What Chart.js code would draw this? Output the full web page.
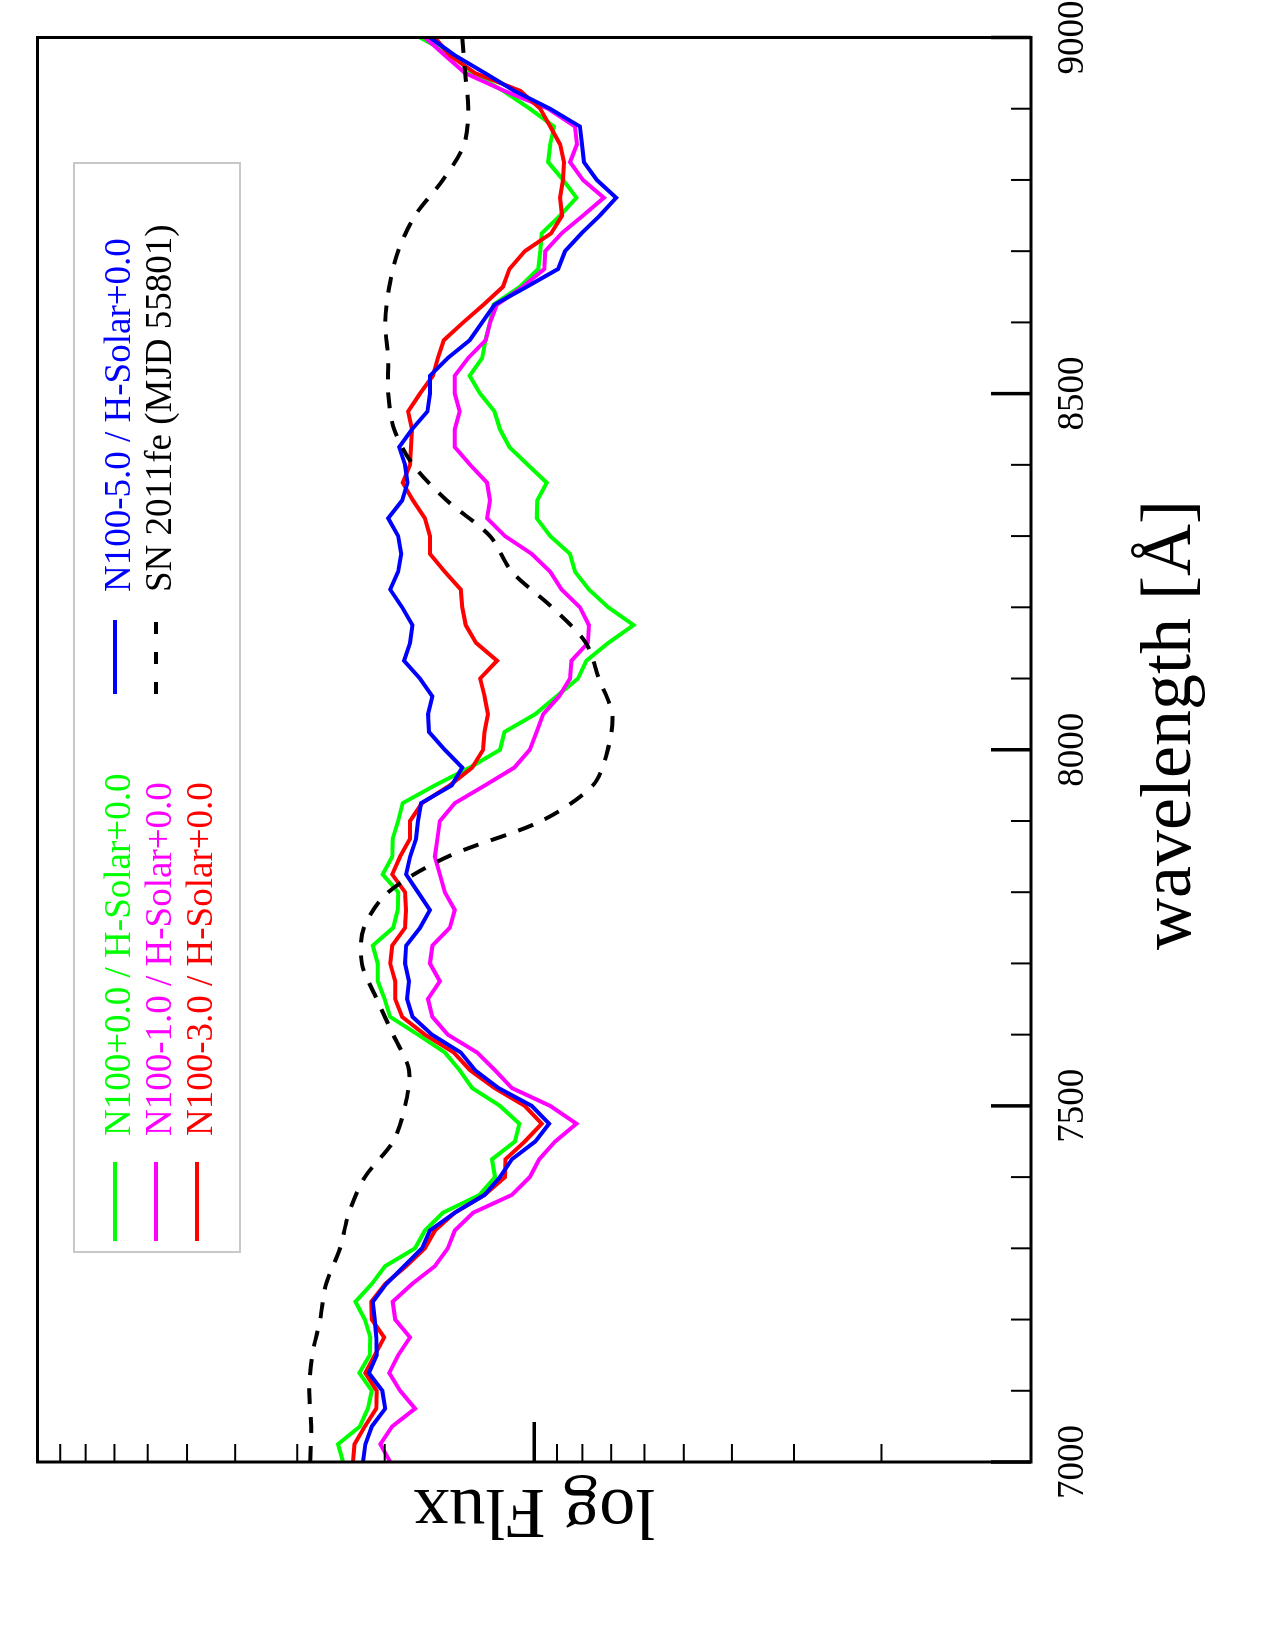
<!DOCTYPE html>
<html><head><meta charset="utf-8">
<script src="https://cdn.jsdelivr.net/npm/chart.js@4.4.1/dist/chart.umd.min.js"></script>
<style>
html,body{margin:0;padding:0;background:#fff;}
body{width:1275px;height:1650px;position:relative;overflow:hidden;}
#rot{position:absolute;left:0;top:0;width:1650px;height:1275px;transform-origin:0 0;transform:translate(0px,1650px) rotate(-90deg);}
canvas{display:block;}
</style></head><body>
<div id="rot"><canvas id="c" width="1650" height="1275" style="width:1650px;height:1275px"></canvas></div>
<script>
// wavelength grid (Angstrom) for the model spectra
const wavelengths = [7000,7025,7050,7075,7100,7125,7150,7175,7200,7225,7250,7275,7300,7325,7350,7375,7400,7425,7450,7475,7500,7525,7550,7575,7600,7625,7650,7675,7700,7725,7750,7775,7800,7825,7850,7875,7900,7925,7950,7975,8000,8025,8050,8075,8100,8125,8150,8175,8200,8225,8250,8275,8300,8325,8350,8375,8400,8425,8450,8475,8500,8525,8550,8575,8600,8625,8650,8675,8700,8725,8750,8775,8800,8825,8850,8875,8900,8925,8950,8975,9000];
// log10 flux
const logFluxN100p00 = [0.385,0.395,0.351,0.335,0.327,0.352,0.331,0.330,0.341,0.360,
  0.327,0.300,0.240,0.220,0.184,0.110,0.079,0.085,0.039,0.030,
  0.069,0.125,0.150,0.180,0.234,0.290,0.301,0.315,0.315,0.325,
  0.284,0.275,0.274,0.305,0.286,0.285,0.274,0.265,0.200,0.130,
  0.069,0.060,-0.002,-0.045,-0.088,-0.105,-0.149,-0.200,-0.149,-0.110,
  -0.082,-0.072,-0.032,-0.005,-0.006,-0.025,0.013,0.050,0.069,0.080,
  0.109,0.130,0.105,0.098,0.089,0.082,0.029,-0.008,-0.012,-0.015,
  -0.052,-0.085,-0.058,-0.028,-0.032,-0.040,0.009,0.062,0.125,0.165,0.230];
const logFluxN100m10 = [0.290,0.310,0.286,0.240,0.270,0.292,0.274,0.250,0.280,0.285,
  0.246,0.200,0.174,0.160,0.123,0.045,0.009,-0.010,-0.042,-0.085,
  -0.032,0.045,0.079,0.115,0.174,0.205,0.214,0.190,0.210,0.205,
  0.170,0.160,0.180,0.190,0.200,0.195,0.190,0.160,0.099,0.040,
  0.009,-0.005,-0.018,-0.050,-0.072,-0.075,-0.108,-0.110,-0.092,-0.055,
  -0.032,0.005,0.059,0.095,0.089,0.095,0.129,0.160,0.160,0.150,
  0.160,0.160,0.133,0.098,0.089,0.075,0.023,-0.020,-0.022,-0.055,
  -0.098,-0.140,-0.098,-0.072,-0.086,-0.082,-0.028,0.060,0.139,0.180,0.220];
const logFluxN100m30 = [0.365,0.362,0.341,0.318,0.317,0.340,0.321,0.302,0.327,0.328,
  0.300,0.258,0.220,0.200,0.160,0.100,0.059,0.058,0.019,-0.015,
  0.019,0.080,0.129,0.162,0.220,0.266,0.280,0.280,0.290,0.286,
  0.260,0.258,0.260,0.286,0.270,0.250,0.250,0.226,0.170,0.125,
  0.103,0.100,0.093,0.100,0.109,0.075,0.117,0.138,0.145,0.148,
  0.180,0.210,0.210,0.220,0.244,0.265,0.250,0.248,0.246,0.254,
  0.230,0.204,0.194,0.182,0.143,0.102,0.063,0.050,0.019,-0.034,
  -0.056,-0.052,-0.058,-0.060,-0.052,-0.032,-0.012,0.028,0.119,0.170,0.200];
const logFluxN100m50 = [0.345,0.340,0.327,0.300,0.306,0.333,0.317,0.318,0.321,0.325,
  0.298,0.262,0.226,0.210,0.160,0.100,0.069,0.045,-0.002,-0.030,
  0.005,0.072,0.119,0.148,0.206,0.245,0.256,0.252,0.260,0.258,
  0.230,0.210,0.234,0.258,0.250,0.238,0.234,0.228,0.166,0.145,
  0.180,0.212,0.214,0.205,0.230,0.262,0.250,0.245,0.266,0.290,
  0.274,0.268,0.274,0.294,0.266,0.255,0.260,0.272,0.246,0.215,
  0.210,0.210,0.174,0.130,0.105,0.080,0.015,-0.048,-0.062,-0.095,
  -0.132,-0.165,-0.126,-0.100,-0.096,-0.092,-0.032,0.040,0.099,0.160,0.210];
// observed spectrum
const snWavelengths = [7000,7050,7100,7150,7200,7250,7300,7350,7400,7450,7500,7550,7600,7650,7700,7750,7800,7850,7900,7950,8000,8050,8100,8150,8200,8250,8300,8350,8400,8450,8500,8550,8600,8650,8700,8750,8800,8850,8900,8950,9000];
const logFluxSN2011fe = [0.451,0.449,0.453,0.447,0.431,0.419,0.391,0.373,0.341,0.284,0.260,0.252,0.284,0.317,0.347,0.343,0.294,0.174,-0.014,-0.118,-0.148,-0.157,-0.130,-0.104,-0.036,0.045,0.089,0.176,0.244,0.282,0.294,0.294,0.300,0.292,0.274,0.240,0.184,0.141,0.133,0.139,0.145];

const seriesLabels = ['N100+0.0 / H-Solar+0.0','N100-1.0 / H-Solar+0.0','N100-3.0 / H-Solar+0.0','N100-5.0 / H-Solar+0.0','SN 2011fe (MJD 55801)'];
const seriesColors = ['#00ff00','#ff00ff','#ff0000','#0000ff','#000000'];
const wavelengthTickLabels = [7000,7500,8000,8500,9000];
const wavelengthMinorTicks = [7100,7200,7300,7400,7600,7700,7800,7900,8100,8200,8300,8400,8600,8700,8800,8900];
const fluxMinorTicks = [0.2,0.3,0.4,0.5,0.6,0.7,0.8,0.9,2,3,4,5,6,7,8,9];
const fluxMajorTicks = [1];
const xTitle = 'wavelength [Å]';
const yTitle = 'log Flux';

function pts(xs, ls){ return xs.map((w,i)=>({x:w, y:Math.pow(10, ls[i])})); }

const modelSets = [logFluxN100p00, logFluxN100m10, logFluxN100m30, logFluxN100m50];
const datasets = modelSets.map((ls,i)=>({
  label: seriesLabels[i], data: pts(wavelengths, ls),
  borderColor: seriesColors[i], backgroundColor: seriesColors[i],
  borderWidth: 4, pointRadius: 0, tension: 0, fill: false, order: 4 - i
}));
datasets.push({
  label: seriesLabels[4], data: pts(snWavelengths, logFluxSN2011fe),
  borderColor: seriesColors[4], borderWidth: 4, borderDash: [16,13],
  pointRadius: 0, tension: 0.3, fill: false, order: 0
});

const decor = {
  id: 'decor',
  afterDatasetsDraw(chart){
    const {ctx, chartArea:a, scales:{x, y}} = chart;
    ctx.save();
    ctx.strokeStyle = '#000'; ctx.lineCap = 'butt'; ctx.setLineDash([]);
    wavelengthMinorTicks.forEach(v=>{ const p=x.getPixelForValue(v); ctx.lineWidth=2; ctx.beginPath(); ctx.moveTo(p,a.bottom); ctx.lineTo(p,a.bottom-20); ctx.stroke(); });
    wavelengthTickLabels.forEach(v=>{ const p=x.getPixelForValue(v); ctx.lineWidth=3.5; ctx.beginPath(); ctx.moveTo(p,a.bottom); ctx.lineTo(p,a.bottom-40); ctx.stroke(); });
    fluxMinorTicks.forEach(v=>{ const p=y.getPixelForValue(v); ctx.lineWidth=2; ctx.beginPath(); ctx.moveTo(a.left,p); ctx.lineTo(a.left+18,p); ctx.stroke(); });
    fluxMajorTicks.forEach(v=>{ const p=y.getPixelForValue(v); ctx.lineWidth=3.5; ctx.beginPath(); ctx.moveTo(a.left,p); ctx.lineTo(a.left+40,p); ctx.stroke(); });
    ctx.lineWidth = 3; ctx.strokeRect(a.left, a.top, a.right-a.left, a.bottom-a.top);
    // tick labels
    ctx.fillStyle = '#000'; ctx.textAlign = 'center'; ctx.textBaseline = 'alphabetic';
    ctx.font = '37px "Liberation Serif"';
    wavelengthTickLabels.forEach(v=>ctx.fillText(String(v), x.getPixelForValue(v), a.bottom+52));
    // axis titles
    ctx.font = '72px "Liberation Serif"';
    ctx.fillText(xTitle, 925, 1190);
    ctx.save(); ctx.translate(160, (a.top+a.bottom)/2); ctx.rotate(-Math.PI/2); ctx.fillText(yTitle, 0, 0); ctx.restore();
    // legend
    ctx.strokeStyle = '#c8c8c8'; ctx.lineWidth = 2;
    ctx.strokeRect(398, 74, 1089, 166);
    const items = [
      {i:0, u0:409, u1:488, tu:514, v:115},
      {i:1, u0:409, u1:488, tu:514, v:156},
      {i:2, u0:409, u1:488, tu:514, v:197},
      {i:3, u0:956, u1:1030, tu:1058, v:115},
      {i:4, u0:956, u1:1030, tu:1058, v:156}
    ];
    ctx.font = '37px "Liberation Serif"'; ctx.textAlign = 'left';
    items.forEach(it=>{
      ctx.strokeStyle = seriesColors[it.i]; ctx.lineWidth = 4;
      ctx.setLineDash(it.i===4 ? [12,18] : []);
      ctx.beginPath(); ctx.moveTo(it.u0, it.v); ctx.lineTo(it.u1, it.v); ctx.stroke();
      ctx.setLineDash([]);
      ctx.fillStyle = seriesColors[it.i];
      ctx.fillText(seriesLabels[it.i], it.tu, it.v+15);
    });
    ctx.restore();
  }
};

new Chart(document.getElementById('c'), {
  type: 'line',
  data: { datasets },
  options: {
    responsive: false, animation: false, devicePixelRatio: 1,
    layout: { padding: { top: 37.5, right: 37.5, left: 0, bottom: 0 } },
    plugins: { legend: { display: false }, tooltip: { enabled: false } },
    scales: {
      x: { type: 'linear', min: 7000, max: 9000,
           ticks: { display: false, stepSize: 100 }, grid: { display: false }, border: { display: false },
           afterFit(s){ s.height = 244; s.paddingLeft = 0; s.paddingRight = 0; } },
      y: { type: 'logarithmic', min: 0.1, max: 10,
           ticks: { display: false }, grid: { display: false }, border: { display: false },
           afterFit(s){ s.width = 188; s.paddingTop = 0; s.paddingBottom = 0; } }
    }
  },
  plugins: [decor]
});
</script>
</body></html>
